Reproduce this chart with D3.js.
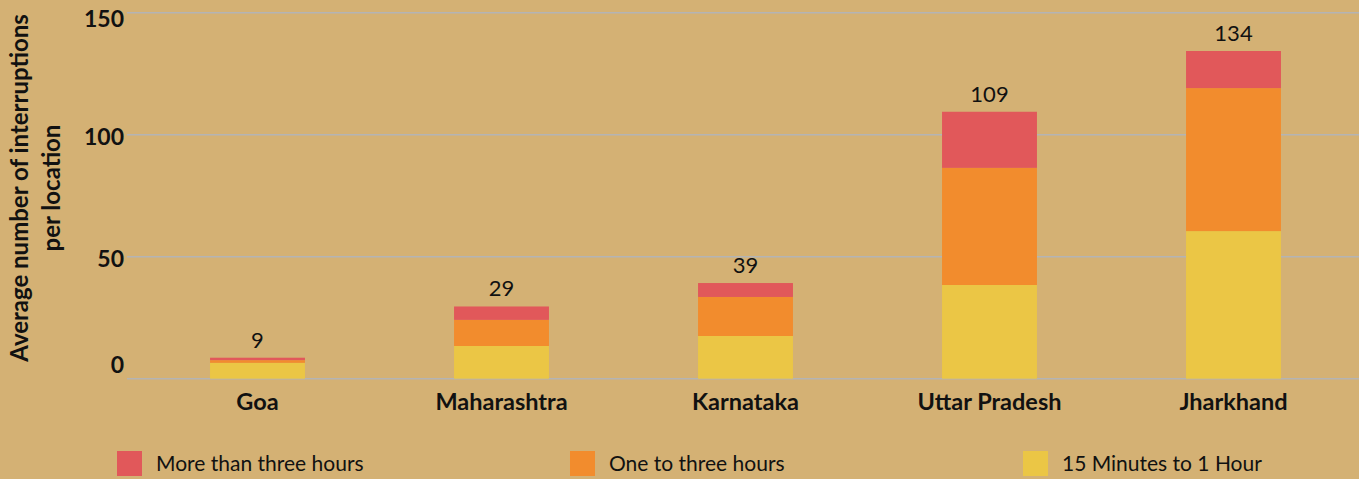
<!DOCTYPE html>
<html>
<head>
<meta charset="utf-8">
<script src="https://cdn.jsdelivr.net/npm/d3@7"></script>
<style>
  body { margin: 0; background: #d4b174; }
  svg text { font-family: Lato, "Open Sans", sans-serif; fill: #111; }
</style>
</head>
<body>
<div id="chart"></div>
<script>
var width = 1359, height = 479;

// data
var states = ["Goa", "Maharashtra", "Karnataka", "Uttar Pradesh", "Jharkhand"];
var shortOutage = [6.5, 13.4, 17.5, 38.4, 60.5];   // 15 Minutes to 1 Hour
var midOutage   = [1.1, 10.7, 16.0, 48.0, 58.6];   // One to three hours
var longOutage  = [1.0, 5.5, 5.7, 23.0, 15.2];     // More than three hours
var totals      = [9, 29, 39, 109, 134];
var yTicks      = [0, 50, 100, 150];

var seriesKeys  = ["short", "mid", "long"];
var seriesNames = { long: "More than three hours", mid: "One to three hours", short: "15 Minutes to 1 Hour" };
var colors      = { long: "#e1585a", mid: "#f28c2d", short: "#ebc645" };

var rows = states.map(function(s, i) {
  return { state: s, short: shortOutage[i], mid: midOutage[i], long: longOutage[i], total: totals[i] };
});

var svg = d3.select("#chart").append("svg")
  .attr("width", width)
  .attr("height", height);

svg.append("rect").attr("width", width).attr("height", height).attr("fill", "#d4b174");

var x = d3.scaleBand()
  .domain(states)
  .range([135.5, 1355.5])
  .paddingInner(0.611)
  .paddingOuter(0.3055);

var y = d3.scaleLinear()
  .domain([0, 150])
  .range([378.7, 12.7]);

// gridlines
svg.append("g")
  .selectAll("line")
  .data(yTicks)
  .enter().append("line")
  .attr("x1", 127).attr("x2", width)
  .attr("y1", function(d) { return y(d); })
  .attr("y2", function(d) { return y(d); })
  .attr("stroke", "#b4b4b4")
  .attr("stroke-width", 1.5);

// y axis labels (edge labels pulled inside like the original)
var yAxis = svg.append("g")
  .attr("transform", "translate(124,0)")
  .call(d3.axisLeft(y).tickValues(yTicks).tickSize(0).tickPadding(0));
yAxis.select(".domain").remove();
yAxis.selectAll("text")
  .attr("font-size", 23)
  .attr("font-weight", "bold")
  .attr("fill", "#111")
  .attr("dy", function(d) { return d === 150 ? "0.6em" : "0.42em"; });
yAxis.selectAll("text").filter(function(d) { return d === 0; })
  .attr("transform", "translate(0,-16)");

// stacked bars
var stack = d3.stack().keys(seriesKeys);
var layers = stack(rows);

svg.append("g")
  .selectAll("g")
  .data(layers)
  .enter().append("g")
  .attr("fill", function(d) { return colors[d.key]; })
  .selectAll("rect")
  .data(function(d) { return d; })
  .enter().append("rect")
  .attr("x", function(d) { return x(d.data.state); })
  .attr("width", x.bandwidth())
  .attr("y", function(d) { return y(d[1]); })
  .attr("height", function(d) { return y(d[0]) - y(d[1]); });

// totals above bars
svg.append("g")
  .selectAll("text")
  .data(rows)
  .enter().append("text")
  .attr("x", function(d) { return x(d.state) + x.bandwidth() / 2; })
  .attr("y", function(d) { return y(d.short + d.mid + d.long) - 10; })
  .attr("text-anchor", "middle")
  .attr("font-size", 22)
  .text(function(d) { return d.total; });

// category labels
var xAxis = svg.append("g")
  .attr("transform", "translate(0,410)")
  .call(d3.axisBottom(x).tickSize(0).tickPadding(0));
xAxis.select(".domain").remove();
xAxis.selectAll("text")
  .attr("font-size", 23.5)
  .attr("font-weight", "bold")
  .attr("fill", "#111")
  .attr("dy", 0);

// axis title
var title = svg.append("text")
  .attr("transform", "translate(0,188) rotate(-90)")
  .attr("text-anchor", "middle")
  .attr("font-size", 24)
  .attr("font-weight", "bold");
title.append("tspan").attr("x", 0).attr("y", 28).text("Average number of interruptions");
title.append("tspan").attr("x", 0).attr("y", 60).text("per location");

// legend
var legendKeys = ["long", "mid", "short"];
var legendX = [117, 570, 1023];
var legend = svg.append("g")
  .selectAll("g")
  .data(legendKeys)
  .enter().append("g")
  .attr("transform", function(d, i) { return "translate(" + legendX[i] + ",451)"; });
legend.append("rect")
  .attr("width", 25).attr("height", 25)
  .attr("fill", function(d) { return colors[d]; });
legend.append("text")
  .attr("x", 39).attr("y", 20)
  .attr("font-size", 21)
  .text(function(d) { return seriesNames[d]; });
</script>
</body>
</html>
